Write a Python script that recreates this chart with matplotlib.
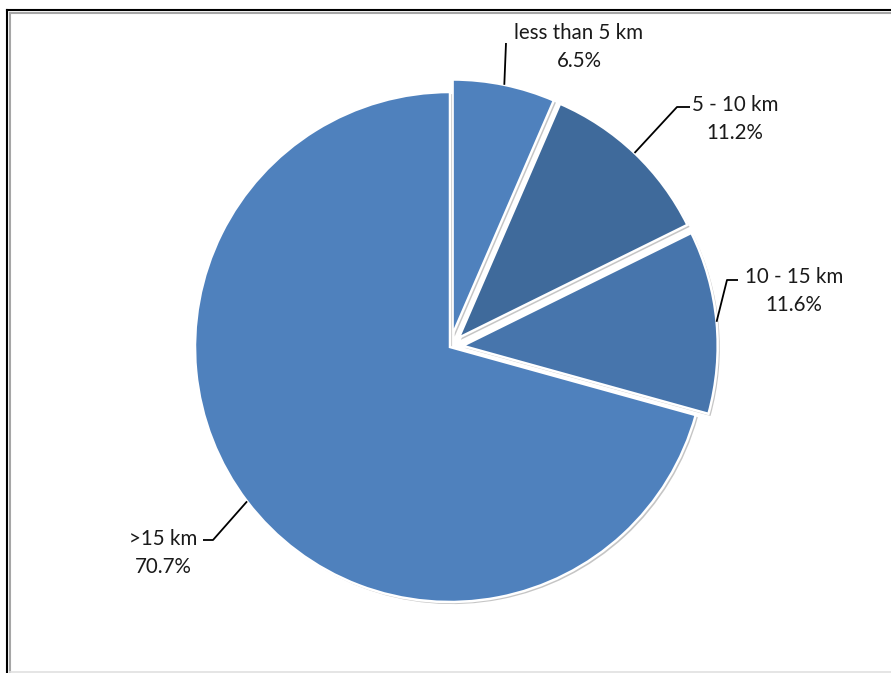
import numpy as np
import matplotlib
matplotlib.use("Agg")
import matplotlib.pyplot as plt
import matplotlib.patheffects as pe
from matplotlib.lines import Line2D

# Commuting distance shares
categories = ["less than 5 km", "5 - 10 km", "10 - 15 km", ">15 km"]
shares = [6.5, 11.2, 11.6, 70.7]
colors = ["#4F81BD", "#3F6A9B", "#4775AC", "#4F81BD"]

W, H = 891, 673
fig = plt.figure(figsize=(W / 100, H / 100), dpi=100)
ax = fig.add_axes([0, 0, 1, 1])

cx, cy, R = 450, H - 347, 255
explode_amt = [0.05 * R, 0.05 * R, 0.05 * R, 0.0]
wedges, _ = ax.pie(
    shares, colors=colors, explode=explode_amt, startangle=90,
    counterclock=False, radius=R, center=(cx, cy), frame=True,
    wedgeprops=dict(edgecolor="white", linewidth=1.8),
)
for w in wedges:
    w.set_path_effects([
        pe.SimplePatchShadow(offset=(1.5, -1.5), shadow_rgbFace="#7f7f7f", alpha=0.45),
        pe.Normal(),
    ])

ax.set_xlim(0, W)
ax.set_ylim(0, H)
ax.set_aspect("equal")
ax.axis("off")

# label text centre and leader elbow/end points (pixel space, y from top)
label_pos = [(579, 47), (735, 119), (794, 291), (163, 553)]
elbows = [None, ((677, 107), (690, 107)), ((727, 280), (738, 280)),
          ((213, 540), (203, 540))]
tips = [(506, 43), None, None, None]

for i, (w, name, val) in enumerate(zip(wedges, categories, shares)):
    mid = np.deg2rad((w.theta1 + w.theta2) / 2)
    wx, wy = w.center
    ax_pt = (wx + w.r * np.cos(mid), wy + w.r * np.sin(mid))
    if elbows[i] is None:
        xs = [ax_pt[0], tips[i][0]]
        ys = [ax_pt[1], H - tips[i][1]]
    else:
        (ex, ey), (tx, ty) = elbows[i]
        xs = [ax_pt[0], ex, tx]
        ys = [ax_pt[1], H - ey, H - ty]
    ax.plot(xs, ys, color="black", lw=1.3, solid_capstyle="butt")
    lx, ly = label_pos[i]
    ax.text(lx, H - ly, f"{name}\n{val:.1f}%", ha="center", va="center",
            multialignment="center", fontsize=14.8, family="Lato",
            linespacing=1.55, color="#1a1a1a")

# chart frame
def hline(y, x0, x1, c, lw):
    fig.add_artist(Line2D([x0 / W, x1 / W], [1 - y / H, 1 - y / H], color=c, lw=lw,
                          transform=fig.transFigure))

def vline(x, y0, y1, c, lw):
    fig.add_artist(Line2D([x / W, x / W], [1 - y0 / H, 1 - y1 / H], color=c, lw=lw,
                          transform=fig.transFigure))

hline(10, 7, W, "black", 1.5)
vline(7, 10, H, "black", 1.5)
hline(13, 10, W, "#a6a6a6", 1.5)
vline(10, 13, H, "#a6a6a6", 1.5)
hline(671.5, 10, W, "#e0e0e0", 1.2)

fig.savefig("out.png", dpi=100, facecolor="white")
